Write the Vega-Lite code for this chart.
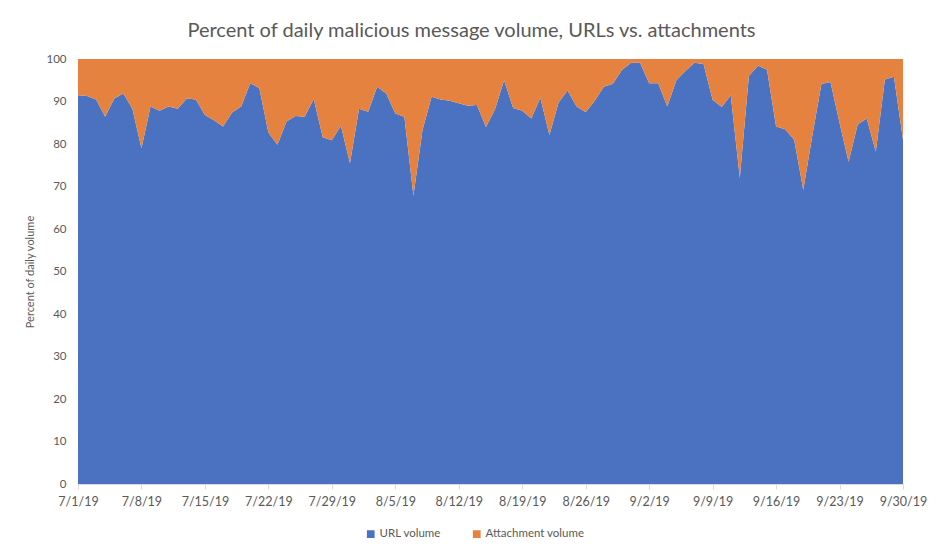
{
  "$schema": "https://vega.github.io/schema/vega-lite/v6.json",
  "width": 825,
  "height": 425,
  "autosize": {"type": "none"},
  "padding": {"left": 78, "top": 59, "right": 40, "bottom": 74},
  "background": "white",
  "title": {
    "text": "Percent of daily malicious message volume, URLs vs. attachments",
    "fontSize": 20,
    "font": "Lato",
    "fontWeight": "normal",
    "color": "#595959",
    "anchor": "middle",
    "frame": "group",
    "dx": -19,
    "dy": 30,
    "baseline": "alphabetic",
    "offset": 26
  },
  "config": {
    "font": "Lato",
    "view": {"stroke": null},
    "axis": {"labelColor": "#595959", "titleColor": "#595959", "labelFont": "Lato", "titleFont": "Lato"}
  },
  "data": {
    "values": [
      {"d": "2019-07-01", "url": 91.5}, {"d": "2019-07-02", "url": 91.3}, {"d": "2019-07-03", "url": 90.5},
      {"d": "2019-07-04", "url": 86.4}, {"d": "2019-07-05", "url": 90.7}, {"d": "2019-07-06", "url": 91.9},
      {"d": "2019-07-07", "url": 88.3}, {"d": "2019-07-08", "url": 79.0}, {"d": "2019-07-09", "url": 88.8},
      {"d": "2019-07-10", "url": 87.8}, {"d": "2019-07-11", "url": 88.8}, {"d": "2019-07-12", "url": 88.3},
      {"d": "2019-07-13", "url": 90.7}, {"d": "2019-07-14", "url": 90.5}, {"d": "2019-07-15", "url": 86.8},
      {"d": "2019-07-16", "url": 85.6}, {"d": "2019-07-17", "url": 84.1}, {"d": "2019-07-18", "url": 87.4},
      {"d": "2019-07-19", "url": 88.8}, {"d": "2019-07-20", "url": 94.3}, {"d": "2019-07-21", "url": 93.2},
      {"d": "2019-07-22", "url": 82.7}, {"d": "2019-07-23", "url": 79.8}, {"d": "2019-07-24", "url": 85.3},
      {"d": "2019-07-25", "url": 86.6}, {"d": "2019-07-26", "url": 86.4}, {"d": "2019-07-27", "url": 90.6},
      {"d": "2019-07-28", "url": 81.6}, {"d": "2019-07-29", "url": 80.9}, {"d": "2019-07-30", "url": 84.3},
      {"d": "2019-07-31", "url": 75.5}, {"d": "2019-08-01", "url": 88.3}, {"d": "2019-08-02", "url": 87.6},
      {"d": "2019-08-03", "url": 93.5}, {"d": "2019-08-04", "url": 91.9}, {"d": "2019-08-05", "url": 87.2},
      {"d": "2019-08-06", "url": 86.4}, {"d": "2019-08-07", "url": 67.8}, {"d": "2019-08-08", "url": 83.3},
      {"d": "2019-08-09", "url": 91.1}, {"d": "2019-08-10", "url": 90.5}, {"d": "2019-08-11", "url": 90.2},
      {"d": "2019-08-12", "url": 89.6}, {"d": "2019-08-13", "url": 89.0}, {"d": "2019-08-14", "url": 89.2},
      {"d": "2019-08-15", "url": 84.0}, {"d": "2019-08-16", "url": 88.2}, {"d": "2019-08-17", "url": 95.0},
      {"d": "2019-08-18", "url": 88.5}, {"d": "2019-08-19", "url": 87.8}, {"d": "2019-08-20", "url": 86.0},
      {"d": "2019-08-21", "url": 90.9}, {"d": "2019-08-22", "url": 82.1}, {"d": "2019-08-23", "url": 89.7},
      {"d": "2019-08-24", "url": 92.6}, {"d": "2019-08-25", "url": 88.8}, {"d": "2019-08-26", "url": 87.5},
      {"d": "2019-08-27", "url": 90.2}, {"d": "2019-08-28", "url": 93.5}, {"d": "2019-08-29", "url": 94.2},
      {"d": "2019-08-30", "url": 97.4}, {"d": "2019-08-31", "url": 99.1}, {"d": "2019-09-01", "url": 99.1},
      {"d": "2019-09-02", "url": 94.3}, {"d": "2019-09-03", "url": 94.3}, {"d": "2019-09-04", "url": 88.8},
      {"d": "2019-09-05", "url": 95.0}, {"d": "2019-09-06", "url": 97.2}, {"d": "2019-09-07", "url": 99.1},
      {"d": "2019-09-08", "url": 98.8}, {"d": "2019-09-09", "url": 90.4}, {"d": "2019-09-10", "url": 88.7},
      {"d": "2019-09-11", "url": 91.5}, {"d": "2019-09-12", "url": 72.0}, {"d": "2019-09-13", "url": 96.0},
      {"d": "2019-09-14", "url": 98.4}, {"d": "2019-09-15", "url": 97.5}, {"d": "2019-09-16", "url": 84.1},
      {"d": "2019-09-17", "url": 83.5}, {"d": "2019-09-18", "url": 81.0}, {"d": "2019-09-19", "url": 69.2},
      {"d": "2019-09-20", "url": 82.0}, {"d": "2019-09-21", "url": 94.1}, {"d": "2019-09-22", "url": 94.6},
      {"d": "2019-09-23", "url": 85.0}, {"d": "2019-09-24", "url": 75.8}, {"d": "2019-09-25", "url": 84.6},
      {"d": "2019-09-26", "url": 86.0}, {"d": "2019-09-27", "url": 78.2}, {"d": "2019-09-28", "url": 95.2},
      {"d": "2019-09-29", "url": 95.8}, {"d": "2019-09-30", "url": 81.0}
    ]
  },
  "encoding": {
    "x": {
      "field": "d",
      "type": "temporal",
      "scale": {"type": "utc", "nice": false},
      "axis": {
        "title": null,
        "format": "%-m/%-d/%y",
        "values": [
          {"year": 2019, "month": 7, "date": 1, "utc": true},
          {"year": 2019, "month": 7, "date": 8, "utc": true},
          {"year": 2019, "month": 7, "date": 15, "utc": true},
          {"year": 2019, "month": 7, "date": 22, "utc": true},
          {"year": 2019, "month": 7, "date": 29, "utc": true},
          {"year": 2019, "month": 8, "date": 5, "utc": true},
          {"year": 2019, "month": 8, "date": 12, "utc": true},
          {"year": 2019, "month": 8, "date": 19, "utc": true},
          {"year": 2019, "month": 8, "date": 26, "utc": true},
          {"year": 2019, "month": 9, "date": 2, "utc": true},
          {"year": 2019, "month": 9, "date": 9, "utc": true},
          {"year": 2019, "month": 9, "date": 16, "utc": true},
          {"year": 2019, "month": 9, "date": 23, "utc": true},
          {"year": 2019, "month": 9, "date": 30, "utc": true}
        ],
        "grid": false,
        "domainColor": "#d9d9d9",
        "tickColor": "#d9d9d9",
        "tickSize": 5,
        "labelFontSize": 12.5,
        "labelPadding": 6,
        "labelAngle": 0,
        "labelOverlap": false,
        "labelFlush": false
      }
    }
  },
  "layer": [
    {
      "mark": {"type": "area", "interpolate": "linear"},
      "encoding": {
        "y": {
          "field": "url",
          "type": "quantitative",
          "scale": {"domain": [0, 100], "nice": false},
          "axis": {
            "title": "Percent of daily volume",
            "titleFontSize": 11,
            "titleFontWeight": "normal",
            "titlePadding": 10,
            "values": [0, 10, 20, 30, 40, 50, 60, 70, 80, 90, 100],
            "domain": false,
            "ticks": false,
            "grid": false,
            "labelFontSize": 11.5,
            "labelPadding": 12
          }
        },
        "y2": {"datum": 0},
        "color": {
          "datum": "URL volume",
          "scale": {"domain": ["URL volume", "Attachment volume"], "range": ["#4A72C0", "#E5823F"]},
          "legend": {
            "title": null,
            "orient": "none",
            "direction": "horizontal",
            "legendX": 287,
            "legendY": 469,
            "symbolType": "square",
            "symbolSize": 60,
            "symbolStrokeWidth": 0,
            "labelFontSize": 11.5,
            "labelColor": "#595959",
            "labelOffset": 3,
            "columnPadding": 30
          }
        }
      }
    },
    {
      "mark": {"type": "area", "interpolate": "linear"},
      "encoding": {
        "y": {"field": "url", "type": "quantitative"},
        "y2": {"datum": 100},
        "color": {"datum": "Attachment volume"}
      }
    }
  ]
}
